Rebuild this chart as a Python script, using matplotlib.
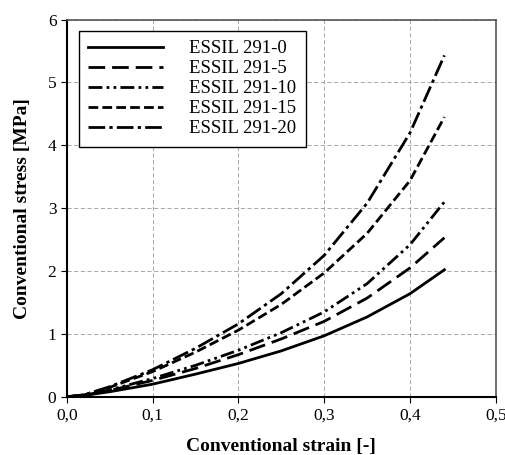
import matplotlib
matplotlib.use("Agg")
import matplotlib.pyplot as plt

plt.rcParams['font.family'] = ['Liberation Serif', 'DejaVu Serif']

# strain values (x) and stress curves (MPa)
strain = [0.0, 0.02, 0.05, 0.10, 0.15, 0.20, 0.25, 0.30, 0.35, 0.40, 0.44]
essil_0 = [0.0, 0.02, 0.08, 0.20, 0.36, 0.53, 0.73, 0.97, 1.27, 1.64, 2.02]
essil_5 = [0.0, 0.02, 0.10, 0.26, 0.45, 0.67, 0.92, 1.20, 1.57, 2.05, 2.53]
essil_10 = [0.0, 0.02, 0.11, 0.29, 0.50, 0.74, 1.02, 1.35, 1.80, 2.42, 3.10]
essil_15 = [0.0, 0.03, 0.15, 0.40, 0.71, 1.06, 1.47, 1.97, 2.60, 3.44, 4.45]
essil_20 = [0.0, 0.03, 0.16, 0.43, 0.77, 1.16, 1.64, 2.25, 3.08, 4.20, 5.43]

labels = ['ESSIL 291-0', 'ESSIL 291-5', 'ESSIL 291-10', 'ESSIL 291-15', 'ESSIL 291-20']
xticks = [0.0, 0.1, 0.2, 0.3, 0.4, 0.5]
xticklabels = ['0,0', '0,1', '0,2', '0,3', '0,4', '0,5']
yticks = [0, 1, 2, 3, 4, 5, 6]

fig = plt.figure(figsize=(5.06, 4.55), dpi=100)
ax = fig.add_axes([0.132, 0.128, 0.848, 0.829])

styles = ['-', (0, (6, 2.5)), (0, (5, 1.5, 1, 1.5, 1, 1.5)), (0, (3.5, 1.5)), (0, (6, 1.5, 1.2, 1.5))]
series = [essil_0, essil_5, essil_10, essil_15, essil_20]
for ys, lab, ls in zip(series, labels, styles):
    ax.plot(strain, ys, color='black', lw=2, linestyle=ls, label=lab)

ax.set_xlim(0, 0.5)
ax.set_ylim(0, 6)
ax.set_xticks(xticks)
ax.set_xticklabels(xticklabels)
ax.set_yticks(yticks)
ax.tick_params(labelsize=12.5, direction='out', length=4, color='black')
ax.grid(True, color='#999999', linestyle=(0, (5, 3)), lw=0.6)

for side in ['top', 'right']:
    ax.spines[side].set_color('#555555')
    ax.spines[side].set_linewidth(1.2)
for side in ['left', 'bottom']:
    ax.spines[side].set_linewidth(1.5)

ax.set_xlabel('Conventional strain [-]', fontsize=14, fontweight='bold', labelpad=11)
ax.set_ylabel('Conventional stress [MPa]', fontsize=14, fontweight='bold', labelpad=12)

leg = ax.legend(loc='upper left', bbox_to_anchor=(0.028, 0.970), borderaxespad=0, fontsize=13.5,
                handlelength=4.0, fancybox=False, framealpha=1, edgecolor='black',
                borderpad=0.5, labelspacing=0.15, handletextpad=1.4)
leg.get_frame().set_linewidth(1.0)

fig.savefig('out.png', dpi=100)
